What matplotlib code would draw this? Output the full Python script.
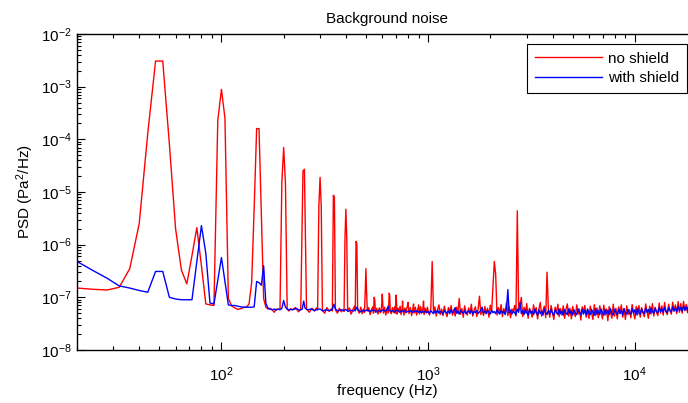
import numpy as np
import matplotlib.pyplot as plt
from matplotlib.ticker import LogLocator, NullFormatter

# PSD values are given in units of 1e-8 Pa^2/Hz

# low frequency bins (4 Hz spacing), both series
low_freq = list(range(20, 220, 4))
red_low = [15, 14.2, 13.8, 15.5, 35, 250, 13000, 307000, 307000, 8000,
           200, 33, 18, 62, 210, 40, 7.5, 7.2, 7.0, 23000,
           89000, 25000, 9.5, 6.9, 6.3, 5.9, 6.1, 6.4, 6.5, 7.5,
           19, 500, 16000, 16000, 400, 9.5, 6.5, 6.0, 6.2, 5.8,
           5.2, 6.0, 5.9, 6.0, 1500, 7000, 1500, 6.0, 5.5, 6.1]
blue_low = [48, 32, 23, 16.5, 15, 13.5, 12.5, 31, 31, 10,
            9.3, 9.0, 9.0, 9.0, 47, 230, 69, 7.8, 7.5, 21,
            57, 20, 7.2, 7.0, 7.0, 6.8, 6.6, 6.5, 6.5, 6.5,
            6.5, 6.6, 20, 19, 17, 40, 7.7, 6.2, 6.0, 5.8,
            6.0, 5.7, 6.0, 5.8, 6.2, 8.7, 6.5, 6.0, 5.8, 5.9]

# 220 Hz - 1 kHz, mains harmonics
red_mid_freq = [220, 228, 236, 242, 248, 252, 258, 266, 274, 282,
                288, 292, 296, 300, 304, 308, 316, 324, 332, 340,
                344, 348, 352, 356, 364, 372, 380, 388, 392, 396,
                400, 404, 408, 416, 424, 432, 440, 444, 448, 452,
                456, 464, 472, 480, 488, 492, 496, 500, 504, 508,
                516, 524, 532, 540, 544, 548, 552, 556, 564, 572,
                580, 588, 592, 596, 600, 604, 608, 616, 624, 632,
                640, 644, 648, 652, 656, 664, 672, 680, 688, 692,
                696, 700, 704, 708, 716, 724, 732, 740, 748, 752,
                756, 764, 772, 780, 792, 800, 808, 820, 832, 844,
                850, 856, 868, 880, 892, 900, 908, 920, 932, 944,
                950, 956, 968, 980, 992]
red_mid = [5.8, 6.4, 5.3, 6.0, 2500, 2700, 6.0, 5.2, 6.2, 5.5,
           6.3, 5.8, 530, 1900, 530, 5.6, 5.0, 6.4, 5.4, 6.0,
           5.5, 870, 800, 5.8, 5.0, 6.2, 5.3, 5.9, 5.4, 130,
           470, 130, 5.6, 6.3, 4.8, 5.8, 6.8, 5.5, 115, 105,
           5.9, 5.0, 6.5, 4.9, 6.0, 5.2, 12, 35, 12, 5.5,
           6.4, 4.7, 5.9, 6.6, 5.0, 10, 9, 5.2, 6.2, 4.8,
           6.3, 5.1, 5.8, 7, 11.5, 7, 5.0, 6.5, 4.6, 6.1,
           5.0, 6.2, 12, 11, 5.3, 4.9, 6.4, 5.2, 6.6, 5.0,
           6.5, 11, 7, 4.8, 6.2, 5.4, 6.8, 4.7, 5.8, 8.5,
           6.0, 4.6, 6.3, 5.1, 6.6, 8.0, 4.9, 6.4, 4.5, 6.2,
           7.5, 5.0, 6.5, 4.6, 6.0, 7.2, 4.8, 6.7, 5.0, 6.3,
           8.5, 4.7, 6.2, 5.1, 6.5]
blue_mid_freq = [220, 230, 240, 246, 250, 254, 262, 272, 282, 292,
                 300, 310, 320, 332, 344, 350, 356, 366, 378, 390,
                 400, 410, 422, 434, 446, 452, 460, 472, 484, 496,
                 508, 520, 534, 548, 562, 576, 590, 604, 618, 632,
                 640, 648, 660, 674, 688, 702, 716, 730, 744, 758,
                 772, 786, 800, 814, 828, 842, 856, 870, 884, 898,
                 912, 926, 940, 954, 968, 982, 996]
blue_mid = [5.8, 6.1, 5.7, 6.0, 8.5, 6.2, 5.8, 6.0, 5.6, 5.9,
            6.0, 5.5, 5.8, 5.6, 5.9, 7.4, 6.0, 5.5, 5.8, 5.6,
            5.9, 5.4, 5.7, 5.5, 5.8, 6.5, 5.6, 5.3, 5.7, 5.5,
            5.8, 5.4, 5.6, 5.7, 5.3, 5.6, 5.4, 5.8, 5.5, 5.7,
            6.8, 5.7, 5.4, 5.6, 5.3, 5.7, 5.5, 5.2, 5.6, 5.4,
            5.7, 5.2, 5.5, 5.3, 5.6, 5.2, 5.5, 5.3, 5.6, 5.2,
            5.5, 5.1, 5.4, 5.2, 5.5, 5.1, 5.4]

# 1 kHz - 20 kHz noise floor (log spaced bins)
red_band = [5.5, 4.6, 6.2, 48, 5.0, 6.6, 4.4, 5.8, 7.2, 4.7,
            6.0, 4.5, 6.8, 5.1, 4.3, 6.4, 5.3, 7.0, 4.6, 5.9,
            4.4, 6.5, 5.0, 9.5, 4.8, 6.1, 4.2, 6.9, 5.2, 4.6,
            6.3, 4.9, 7.4, 4.4, 5.7, 6.6, 4.3, 6.0, 10.5, 4.7,
            5.8, 4.5, 6.7, 5.0, 6.2, 4.2, 7.1, 5.4, 16, 48,
            27, 4.6, 6.4, 5.0, 7.3, 4.3, 6.1, 5.2, 8.0, 4.5,
            6.6, 4.1, 6.0, 5.3, 7.0, 4.4, 440, 5.8, 6.9, 10,
            4.3, 6.5, 5.1, 7.6, 4.0, 6.2, 5.5, 4.2, 7.2, 5.0,
            6.4, 3.9, 6.0, 8.0, 4.4, 5.6, 6.8, 4.1, 30, 5.9,
            4.2, 7.0, 5.2, 3.8, 6.5, 5.0, 7.4, 4.3, 6.1, 4.6,
            6.9, 4.0, 5.8, 7.5, 4.4, 6.2, 3.9, 6.7, 5.1, 4.3,
            7.2, 4.8, 6.0, 3.7, 6.6, 5.4, 7.0, 4.2, 5.9, 4.0,
            6.8, 5.0, 3.8, 7.3, 4.5, 6.3, 4.1, 6.9, 5.3, 3.9,
            7.1, 4.6, 6.0, 3.6, 6.7, 5.2, 4.0, 7.4, 4.4, 6.2,
            3.9, 6.6, 5.0, 7.2, 4.2, 6.1, 3.8, 6.9, 4.7, 5.8,
            4.1, 7.3, 5.1, 3.9, 6.7, 4.6, 7.0, 4.2, 6.4, 5.0,
            4.3, 7.5, 5.4, 4.0, 6.8, 4.8, 7.6, 4.4, 6.5, 5.2,
            4.5, 7.8, 5.0, 6.9, 4.6, 8.0, 5.3, 4.7, 7.4, 5.6,
            4.8, 8.1, 5.5, 7.2, 4.9, 8.3, 5.2, 7.6, 5.0, 8.4,
            5.6, 7.3, 5.1, 8.6, 5.7, 7.8, 5.3, 8.8, 6.0, 8.2]
blue_band = [5.3, 5.0, 5.6, 5.2, 4.9, 5.5, 5.1, 5.7, 5.0, 5.4,
             5.2, 4.8, 5.6, 5.3, 5.0, 5.5, 4.9, 5.8, 5.1, 5.4,
             6.4, 5.0, 5.5, 4.8, 5.7, 5.2, 5.0, 5.6, 4.9, 5.3,
             5.5, 5.0, 5.8, 4.8, 5.4, 5.1, 5.6, 4.9, 5.3, 5.7,
             6.5, 5.0, 5.5, 4.9, 5.6, 5.2, 4.8, 5.7, 5.1, 5.4,
             4.9, 5.8, 5.2, 4.8, 5.6, 5.0, 5.5, 4.7, 5.9, 14,
             5.0, 5.7, 4.8, 5.5, 5.1, 4.7, 6.0, 5.2, 8.0, 4.9,
             5.6, 4.7, 5.9, 5.1, 4.6, 5.8, 5.0, 5.5, 4.7, 6.0,
             5.2, 4.6, 5.8, 4.9, 5.5, 4.6, 6.0, 5.1, 4.7, 5.7,
             4.8, 5.9, 5.0, 4.6, 5.8, 5.2, 4.7, 6.0, 4.9, 5.5,
             4.6, 5.9, 5.1, 4.7, 6.0, 4.9, 5.6, 4.6, 5.8, 5.0,
             4.7, 6.0, 5.2, 4.6, 5.9, 4.8, 5.7, 4.6, 6.0, 5.0,
             4.7, 5.9, 5.1, 4.6, 6.1, 4.8, 5.6, 4.7, 6.0, 5.1,
             4.6, 5.9, 4.9, 5.7, 4.7, 6.1, 5.0, 4.6, 5.9, 5.2,
             4.7, 6.0, 4.9, 5.8, 4.6, 6.1, 5.1, 4.8, 5.9, 5.0,
             4.8, 6.1, 5.0, 5.8, 4.7, 6.2, 5.1, 4.8, 6.0, 5.3,
             4.9, 6.2, 5.2, 5.9, 4.9, 6.3, 5.3, 5.0, 6.2, 5.4,
             5.1, 6.4, 5.3, 6.1, 5.2, 6.5, 5.5, 5.1, 6.4, 5.6,
             5.3, 6.6, 5.5, 6.3, 5.4, 6.7, 5.6, 6.4, 5.5, 6.8,
             5.7, 6.6, 5.6, 6.9, 5.8, 6.7, 5.7, 7.0, 5.9, 6.8]
band_freq = np.geomspace(1000, 20000, len(red_band))

red_freq = np.concatenate([low_freq, red_mid_freq, band_freq])
red_psd = np.concatenate([red_low, red_mid, red_band]) * 1e-8
blue_freq = np.concatenate([low_freq, blue_mid_freq, band_freq])
blue_psd = np.concatenate([blue_low, blue_mid, blue_band]) * 1e-8

plt.rcParams['font.family'] = ['Liberation Sans', 'DejaVu Sans']
plt.rcParams['mathtext.fontset'] = 'custom'
plt.rcParams['mathtext.rm'] = 'Liberation Sans'
plt.rcParams['mathtext.it'] = 'Liberation Sans:italic'
plt.rcParams['mathtext.default'] = 'regular'

fig = plt.figure(figsize=(6.88, 4.03), dpi=100)
# axes runs past the right edge of the picture (x up to 20 kHz)
ax = fig.add_axes([0.1119, 0.1315, 0.9012, 0.7841])

ax.plot(red_freq, red_psd, color='#ff0000', lw=1.0, label='no shield')
ax.plot(blue_freq, blue_psd, color='#0000ff', lw=1.0, label='with shield')

ax.set_xscale('log')
ax.set_yscale('log')
ax.set_xlim(20, 20000)
ax.set_ylim(1e-8, 1e-2)
ax.yaxis.set_major_locator(LogLocator(base=10, numticks=10))
ax.yaxis.set_minor_locator(LogLocator(base=10, subs=np.arange(2, 10), numticks=20))
ax.xaxis.set_minor_locator(LogLocator(base=10, subs=np.arange(2, 10), numticks=20))
ax.xaxis.set_minor_formatter(NullFormatter())
ax.yaxis.set_minor_formatter(NullFormatter())

ax.tick_params(which='both', direction='in', top=True, right=True, labelsize=11, width=0.8)
ax.tick_params(which='major', length=6)
ax.tick_params(which='minor', length=3)
ax.tick_params(axis='x', which='major', pad=11)
for s in ax.spines.values():
    s.set_linewidth(1.0)

ax.set_title('Background noise', fontsize=11, pad=8)
ax.set_xlabel('frequency (Hz)', fontsize=11, labelpad=0)
ax.set_ylabel('PSD (Pa$^2$/Hz)', fontsize=11)

leg = ax.legend(loc='upper right', bbox_to_anchor=(687 / 688, 1 - 44 / 403),
                bbox_transform=fig.transFigure, borderaxespad=0, fancybox=False,
                edgecolor='black', framealpha=1, fontsize=11, handlelength=4.4,
                handletextpad=0.4, labelspacing=0.35, borderpad=0.5)
leg.get_frame().set_linewidth(0.8)

fig.savefig('out.png', dpi=100)
